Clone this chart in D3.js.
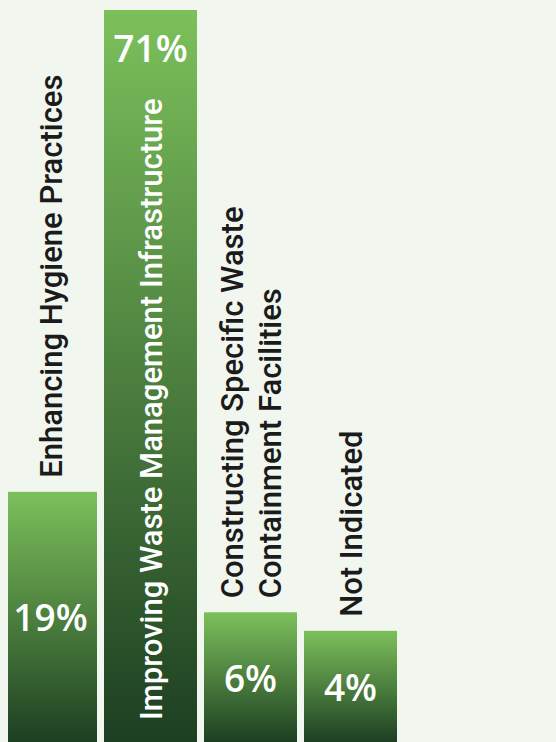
<!DOCTYPE html>
<html>
<head>
<meta charset="utf-8">
<script src="https://cdn.jsdelivr.net/npm/d3@7"></script>
<style>
  html, body { margin: 0; padding: 0; background: #f1f7ef; }
  svg { display: block; }
</style>
</head>
<body>
<div id="chart"></div>
<script>
// Survey shares of proposed waste-related measures
const categories = ["hygiene", "infrastructure", "containment", "none"];
const labelLines = [
  ["Enhancing Hygiene Practices"],
  ["Improving Waste Management Infrastructure"],
  ["Constructing Specific Waste", "Containment Facilities"],
  ["Not Indicated"]
];
const values = [19, 71, 6, 4];

const width = 556, height = 742;
const labelSize = 31, valueSize = 37;

const svg = d3.select("#chart").append("svg")
  .attr("width", width)
  .attr("height", height);

svg.append("rect").attr("width", width).attr("height", height).attr("fill", "#f1f7ef");

const defs = svg.append("defs");
const grad = defs.append("linearGradient")
  .attr("id", "barFill")
  .attr("x1", 0).attr("y1", 0).attr("x2", 0).attr("y2", 1);
grad.append("stop").attr("offset", "0%").attr("stop-color", "#7cc05b");
grad.append("stop").attr("offset", "100%").attr("stop-color", "#1d3f22");

defs.append("clipPath").attr("id", "plotClip")
  .append("rect").attr("x", 8).attr("y", 0).attr("width", width - 8).attr("height", height);

const x = d3.scaleBand()
  .domain(categories)
  .range([4, 397])
  .paddingInner(0.07)
  .paddingOuter(0);

// Baseline sits a little below zero so the small shares keep room for their labels
const y = d3.scaleLinear()
  .domain([-8, 71])
  .range([height, 10]);

const data = categories.map((c, i) => ({ key: c, value: values[i], lines: labelLines[i] }));

const g = svg.append("g").attr("clip-path", "url(#plotClip)");

g.selectAll("rect.bar")
  .data(data)
  .join("rect")
  .attr("class", "bar")
  .attr("x", d => x(d.key))
  .attr("y", d => y(d.value))
  .attr("width", x.bandwidth())
  .attr("height", d => y.range()[0] - y(d.value))
  .attr("fill", "url(#barFill)");

const labelFont = "Roboto, 'Noto Sans', sans-serif";
const valueFont = "'Open Sans', 'Noto Sans', sans-serif";
const lineGap = 38;

data.forEach(d => {
  const cx = x(d.key) + x.bandwidth() / 2;
  const top = y(d.value);
  const barH = height - top;

  // measure the longest label line to decide whether it fits inside the bar
  const probe = svg.append("text")
    .attr("font-family", labelFont).attr("font-size", labelSize).attr("font-weight", 500)
    .text(d.lines.reduce((a, b) => (a.length > b.length ? a : b)));
  const len = probe.node().getComputedTextLength();
  probe.remove();

  const inside = d.lines.length === 1 && len + 60 < barH;
  const n = d.lines.length;

  const labelG = svg.append("g");
  d.lines.forEach((line, j) => {
    const off = (j - (n - 1) / 2) * lineGap;
    const bx = cx + off + labelSize * 0.36;
    const by = inside ? height - 22 : top - 14;
    labelG.append("text")
      .attr("transform", `translate(${bx},${by}) rotate(-90)`)
      .attr("text-anchor", "start")
      .attr("font-family", labelFont)
      .attr("font-size", labelSize)
      .attr("font-weight", 500)
      .attr("fill", inside ? "#ffffff" : "#1b1b1b")
      .text(line);
  });

  const vy = inside ? top + 37 : top + barH / 2;
  svg.append("text")
    .attr("x", cx)
    .attr("y", vy)
    .attr("text-anchor", "middle")
    .attr("dominant-baseline", "central")
    .attr("font-family", valueFont)
    .attr("font-size", valueSize)
    .attr("font-weight", 600)
    .attr("fill", "#ffffff")
    .text(d.value + "%");
});
</script>
</body>
</html>
